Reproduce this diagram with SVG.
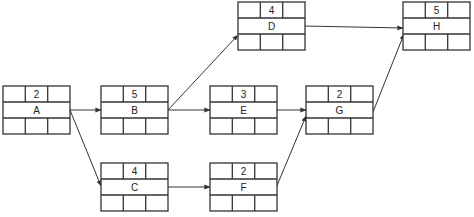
<svg xmlns="http://www.w3.org/2000/svg" width="474" height="217" viewBox="0 0 474 217">
<defs>
<style>
.cr{fill:#fff;stroke:#333;stroke-width:1.3}
.cl{stroke:#333;stroke-width:1.3}
.t{font-family:"Liberation Sans",Arial,sans-serif;font-size:10px;fill:#222;text-anchor:middle}
.c{stroke:#333;stroke-width:1;fill:none;marker-end:url(#ah)}
</style>
<marker id="ah" viewBox="0 0 8 8" refX="7.5" refY="4" markerWidth="6" markerHeight="6" orient="auto" markerUnits="userSpaceOnUse">
<path d="M0,0.8 L8,4 L0,7.2 Z" fill="#333"/>
</marker>
<g id="cell">
<rect class="cr" x="0" y="0" width="67" height="48"/>
<line class="cl" x1="0" y1="16" x2="67" y2="16"/>
<line class="cl" x1="0" y1="32" x2="67" y2="32"/>
<line class="cl" x1="22.3" y1="0" x2="22.3" y2="16"/>
<line class="cl" x1="44.7" y1="0" x2="44.7" y2="16"/>
<line class="cl" x1="22.3" y1="32" x2="22.3" y2="48"/>
<line class="cl" x1="44.7" y1="32" x2="44.7" y2="48"/>
</g>
</defs>
<g id="connectors">
<line class="c" x1="70" y1="110" x2="101" y2="110"/>
<line class="c" x1="70" y1="110" x2="101" y2="186"/>
<line class="c" x1="168" y1="110" x2="238" y2="35"/>
<line class="c" x1="168" y1="110" x2="210" y2="110"/>
<line class="c" x1="168" y1="187" x2="210" y2="187"/>
<line class="c" x1="304" y1="26" x2="403" y2="28"/>
<line class="c" x1="276" y1="110" x2="306" y2="110"/>
<line class="c" x1="276" y1="188" x2="306" y2="116"/>
<line class="c" x1="373" y1="112" x2="404" y2="34"/>
</g>
<g id="A" transform="translate(3,86)"><use href="#cell"/><text class="t" x="33.5" y="12">2</text><text class="t" x="33.5" y="28">A</text></g>
<g id="B" transform="translate(101,86)"><use href="#cell"/><text class="t" x="33.5" y="12">5</text><text class="t" x="33.5" y="28">B</text></g>
<g id="C" transform="translate(101,163)"><use href="#cell"/><text class="t" x="33.5" y="12">4</text><text class="t" x="33.5" y="28">C</text></g>
<g id="D" transform="translate(238,2)"><use href="#cell"/><text class="t" x="33.5" y="12">4</text><text class="t" x="33.5" y="28">D</text></g>
<g id="E" transform="translate(210,86)"><use href="#cell"/><text class="t" x="33.5" y="12">3</text><text class="t" x="33.5" y="28">E</text></g>
<g id="F" transform="translate(210,163)"><use href="#cell"/><text class="t" x="33.5" y="12">2</text><text class="t" x="33.5" y="28">F</text></g>
<g id="G" transform="translate(306,86)"><use href="#cell"/><text class="t" x="33.5" y="12">2</text><text class="t" x="33.5" y="28">G</text></g>
<g id="H" transform="translate(403,2)"><use href="#cell"/><text class="t" x="33.5" y="12">5</text><text class="t" x="33.5" y="28">H</text></g>
</svg>
